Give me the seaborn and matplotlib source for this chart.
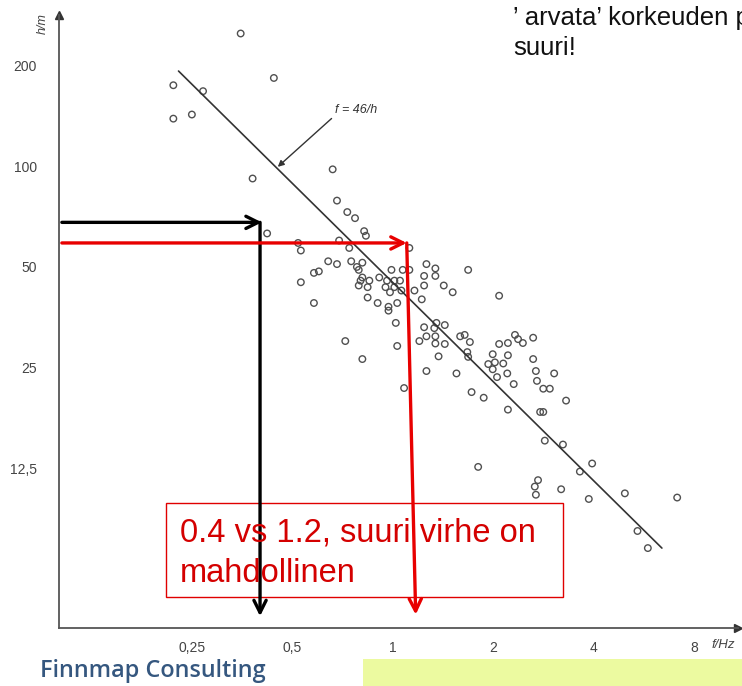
import numpy as np
import pandas as pd
import matplotlib
matplotlib.use('Agg')
import matplotlib.pyplot as plt
import seaborn as sns
from matplotlib.patches import Rectangle
from matplotlib.ticker import NullLocator, FixedLocator, FixedFormatter

# ---- data ----
freq_hz = [0.35, 0.44, 0.22, 0.27, 0.22, 0.25, 0.38, 0.66, 0.68, 0.73,
           0.77, 0.82, 0.83, 0.42, 0.52, 0.53, 0.69, 0.74, 1.12, 0.64,
           0.68, 0.75, 0.81, 0.58, 0.60, 0.53, 0.79, 0.81, 0.99, 1.07,
           1.12, 0.85, 0.91, 0.96, 1.01, 1.05, 0.79, 0.84, 0.95, 1.01,
           1.06, 0.98, 0.84, 0.90, 1.16, 1.22, 1.03, 0.97, 0.97, 1.26,
           1.34, 1.34, 1.24, 1.24, 1.42, 1.51, 1.68, 0.58, 1.02, 1.03,
           0.72, 0.81, 1.08, 1.24, 1.33, 1.43, 1.35, 1.20, 1.26, 1.34,
           1.34, 1.43, 1.59, 1.64, 1.70, 1.37, 1.26, 1.55, 1.72, 1.67,
           1.68, 1.87, 2.08, 2.08, 2.21, 2.32, 2.37, 2.45, 2.63, 1.99,
           2.21, 1.93, 2.02, 2.14, 1.99, 2.05, 2.20, 2.63, 2.68, 2.70,
           3.04, 2.30, 2.82, 2.95, 3.30, 2.21, 2.76, 2.82, 2.85, 3.23,
           3.95, 3.63, 1.80, 2.72, 2.66, 2.68, 3.19, 3.86, 4.95, 7.10,
           5.40, 5.80, 0.80, 0.78]
height_m = [250, 184, 175, 168, 139, 143, 92, 98, 79, 73,
            70, 64, 62, 63, 59, 56, 60, 57, 57, 52,
            51, 52, 51.5, 48, 48.5, 45, 49, 46.5, 49, 49,
            49, 45.5, 46.5, 45.5, 45.5, 45.5, 44, 43.5, 43.5, 43.5,
            42.5, 42, 40.5, 39, 42.5, 40, 39, 38, 37, 51,
            49.5, 47, 47, 44, 44, 42, 49, 39, 34, 29,
            30, 26.5, 21.7, 33, 32.8, 33.5, 34, 30, 31, 31,
            29.5, 29.4, 31, 31.3, 29.8, 27, 24.4, 24, 21.1, 27.8,
            26.9, 20.3, 41, 29.4, 29.6, 31.3, 30.4, 29.6, 30.7, 27.4,
            27.2, 25.6, 25.9, 25.7, 24.7, 23.4, 24, 26.5, 24.4, 22.8,
            24, 22.3, 21.6, 21.6, 19.9, 18.7, 18.4, 18.4, 15.1, 14.7,
            12.9, 12.2, 12.6, 11.5, 11.0, 10.4, 10.8, 10.1, 10.5, 10.2,
            8.1, 7.2, 45.5, 50]
line_f = [0.228, 6.39]
line_h = [193, 7.2]
x_ticks = [0.25, 0.5, 1, 2, 4, 8]
x_tick_labels = ['0,25', '0,5', '1', '2', '4', '8']
y_ticks = [12.5, 25, 50, 100, 200]
y_tick_labels = ['12,5', '25', '50', '100', '200']

sns.set_style('white')
plt.rcParams['font.family'] = ['Liberation Sans', 'DejaVu Sans']

W, H = 742, 686
fig = plt.figure(figsize=(W / 100, H / 100), dpi=100)
ax = fig.add_axes([59 / W, 58 / H, 679 / W, 613 / H])

df = pd.DataFrame({'f': freq_hz, 'h': height_m})
sns.scatterplot(data=df, x='f', y='h', ax=ax, marker='o', s=22,
                color='#555555', linewidth=1.0, legend=False, zorder=3)
coll = ax.collections[0]
coll.set_facecolor('none')
coll.set_edgecolor('#505050')
coll.set_linewidth(1.0)

sns.lineplot(x=line_f, y=line_h, ax=ax, color='#333333', lw=1.2, zorder=3)

ax.set_xscale('log', base=2)
ax.set_yscale('log', base=2)
ax.set_xlim(0.1, 10.8)
ax.set_ylim(4.15, 284)
ax.xaxis.set_major_locator(FixedLocator(x_ticks))
ax.xaxis.set_major_formatter(FixedFormatter(x_tick_labels))
ax.yaxis.set_major_locator(FixedLocator(y_ticks))
ax.yaxis.set_major_formatter(FixedFormatter(y_tick_labels))
ax.xaxis.set_minor_locator(NullLocator())
ax.yaxis.set_minor_locator(NullLocator())
ax.set_xlabel('')
ax.set_ylabel('')
ax.grid(False)

for s in ['top', 'right']:
    ax.spines[s].set_visible(False)
for s in ['left', 'bottom']:
    ax.spines[s].set_color('#555555')
    ax.spines[s].set_linewidth(1.3)
ax.tick_params(axis='y', direction='in', length=4, width=1, color='#555555',
               labelsize=10, labelcolor='#444444', pad=16)
ax.tick_params(axis='x', direction='in', length=4, width=1, color='#555555',
               labelsize=10, labelcolor='#444444', pad=9)
ax.plot(1, 0, '>', transform=ax.transAxes, clip_on=False, color='#333333', ms=6)
ax.plot(0, 1, '^', transform=ax.transAxes, clip_on=False, color='#333333', ms=6)

# axis titles
fig.text(43 / W, 1 - 24 / H, 'h/m', rotation=90, ha='center', va='center',
         fontsize=9, color='#444444', style='italic')
fig.text(712 / W, 1 - 645 / H, 'f/Hz', ha='left', va='center',
         fontsize=9.5, color='#444444', style='italic')

# f = 46/h label
ax.annotate('f = 46/h', xy=(0.452, 99.7), xytext=(0.67, 148),
            ha='left', va='center', fontsize=9, color='#333333', style='italic',
            arrowprops=dict(arrowstyle='-|>', color='#333333', lw=1,
                            shrinkA=0, shrinkB=0, mutation_scale=9,
                            relpos=(0, 0)))

# red text box (under arrows)
box = Rectangle((166 / W, 89 / H), 397 / W, 94 / H, transform=fig.transFigure,
                facecolor='white', edgecolor='#E00000', lw=1, zorder=1)
fig.patches.append(box)

# black arrows
blk = dict(arrowstyle='->', color='black', lw=2.4, mutation_scale=22,
           shrinkA=0, shrinkB=0)
ax.annotate('', xy=(0.405, 68), xytext=(0.102, 68), arrowprops=blk,
            annotation_clip=False, zorder=5)
ax.annotate('', xy=(0.40, 4.5), xytext=(0.40, 68), arrowprops=blk,
            annotation_clip=False, zorder=5)
# red arrows
red = dict(arrowstyle='->', color='#E80000', lw=2.4, mutation_scale=22,
           shrinkA=0, shrinkB=0)
ax.annotate('', xy=(1.10, 59), xytext=(0.102, 59), arrowprops=red,
            annotation_clip=False, zorder=5)
ax.annotate('', xy=(1.17, 4.55), xytext=(1.10, 59), arrowprops=red,
            annotation_clip=False, zorder=5)

ax.set_zorder(2)
ax.patch.set_alpha(0)

fig.text(180 / W, 1 - 541 / H, '0.4 vs 1.2, suuri virhe on', ha='left',
         va='baseline', fontsize=23.5, color='#D40000', zorder=10)
fig.text(180 / W, 1 - 582 / H, 'mahdollinen', ha='left',
         va='baseline', fontsize=23.5, color='#D40000', zorder=10)

# header text
fig.text(513 / W, 1 - 25 / H, '\u2019 arvata\u2019 korkeuden p', ha='left',
         va='baseline', fontsize=18.5, color='#111111')
fig.text(513 / W, 1 - 55 / H, 'suuri!', ha='left',
         va='baseline', fontsize=18.5, color='#111111')

# footer
fig.patches.append(Rectangle((363 / W, 0), 379 / W, 27 / H,
                             transform=fig.transFigure, facecolor='#ECFAA0',
                             edgecolor='none'))
fig.text(40 / W, 1 - 677 / H, 'Finnmap Consulting', ha='left', va='baseline',
         fontsize=16.8, color='#35577F', weight='semibold',
         family=['Open Sans', 'DejaVu Sans'])

fig.savefig('out.png', dpi=100)
